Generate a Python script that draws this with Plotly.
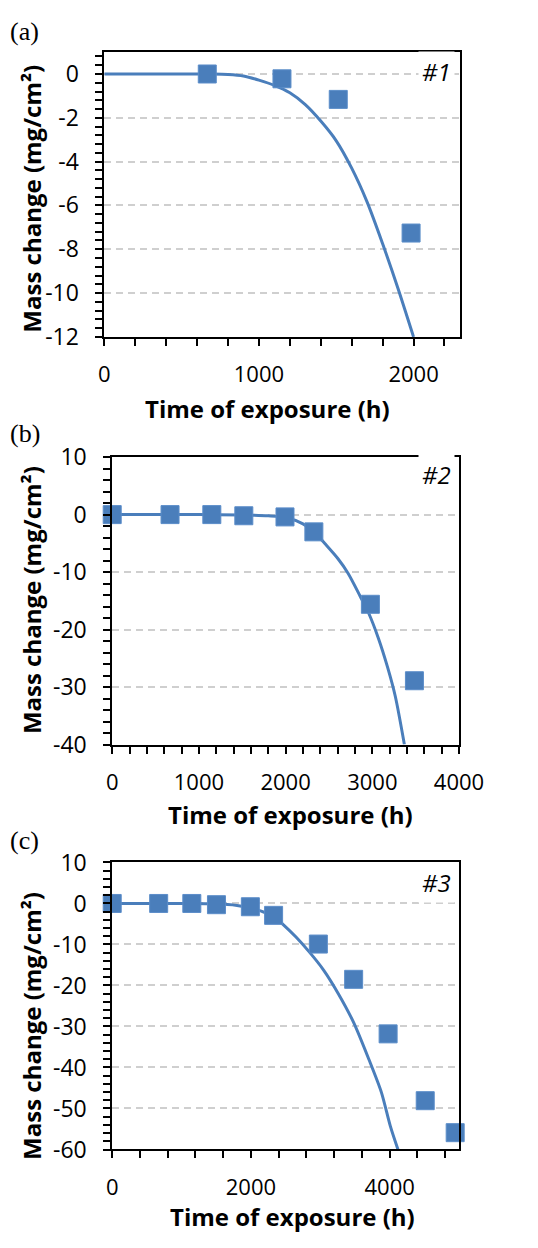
import plotly.graph_objects as go

# ---- data -------------------------------------------------------------
# Panel (a), sample #1
a_time = [666, 1149, 1513, 1984]
a_mass = [0.0, -0.22, -1.16, -7.26]
a_fit_time = [0, 500, 700, 800, 900, 1000, 1100, 1200, 1300, 1400, 1500,
              1600, 1700, 1800, 1900, 2000]
a_fit_mass = [0, 0, 0, -0.02, -0.09, -0.28, -0.52, -0.86, -1.4, -2.15, -3.05,
              -4.3, -5.85, -7.75, -9.8, -12.0]
a_xticks = [0, 1000, 2000]
a_yticks = [0, -2, -4, -6, -8, -10, -12]

# Panel (b), sample #2
b_time = [0, 667, 1149, 1518, 1993, 2326, 2978, 3486]
b_mass = [0.0, 0.0, 0.0, -0.2, -0.4, -3.0, -15.6, -28.9]
b_fit_time = [0, 1000, 1500, 1800, 2000, 2200, 2330, 2450, 2600, 2720, 2860,
              2960, 3070, 3175, 3265, 3370]
b_fit_mass = [0, 0, -0.05, -0.2, -0.5, -1.6, -3.0, -5.0, -7.6, -10.2, -14.2,
              -17.2, -21.5, -26.5, -31.6, -40.0]
b_xticks = [0, 1000, 2000, 3000, 4000]
b_yticks = [10, 0, -10, -20, -30, -40]

# Panel (c), sample #3
c_time = [0, 670, 1148, 1503, 1992, 2327, 2972, 3481, 3978, 4513, 4945]
c_mass = [0.0, 0.0, 0.0, -0.3, -0.8, -2.9, -9.9, -18.5, -31.8, -48.1, -55.9]
c_fit_time = [0, 1000, 1500, 1800, 2000, 2200, 2330, 2450, 2650, 2850, 3050,
              3260, 3480, 3700, 3880, 4010, 4120]
c_fit_mass = [0, 0, -0.1, -0.5, -1.1, -2.2, -3.2, -4.9, -8.2, -12.0, -16.3,
              -22.0, -29.0, -38.0, -46.0, -54.3, -60.0]
c_xticks = [0, 2000, 4000]
c_yticks = [10, 0, -10, -20, -30, -40, -50, -60]

panel_letters = ["(a)", "(b)", "(c)"]
sample_tags = ["#1", "#2", "#3"]
x_title = "Time of exposure (h)"
y_title = "Mass change (mg/cm²)"

# ---- page geometry (pixels) -------------------------------------------
W, H = 538, 1248


def px(x):
    return x / W


def py(y):
    return 1 - y / H


BLUE = "#4a7ebb"
TICK_FONT = dict(family="Open Sans", size=22, color="black")
XTITLE_FONT = dict(family="Open Sans", size=24, color="black", weight="bold")
YTITLE_FONT = dict(family="Open Sans", size=24, color="black", weight="bold")

panels = [
    dict(t=a_time, m=a_mass, ft=a_fit_time, fm=a_fit_mass,
         xt_vals=a_xticks, yt_vals=a_yticks,
         box=(104.3, 481.7, 36.0, 328.3), xr=[0, 2300], yr=[-12, 1],
         xmin=200, ymin=0.4,
         letter_y=15, tag_y=56, xt=(277, 402), yt=(27, 186)),
    dict(t=b_time, m=b_mass, ft=b_fit_time, fm=b_fit_mass,
         xt_vals=b_xticks, yt_vals=b_yticks,
         box=(112.7, 480.7, 451.7, 746.7), xr=[0, 4000], yr=[-40, 10],
         xmin=200, ymin=2,
         letter_y=427, tag_y=470, xt=(302, 818), yt=(27, 598)),
    dict(t=c_time, m=c_mass, ft=c_fit_time, fm=c_fit_mass,
         xt_vals=c_xticks, yt_vals=c_yticks,
         box=(112.7, 480.7, 867.7, 1162.3), xr=[0, 5000], yr=[-60, 10],
         xmin=400, ymin=2,
         letter_y=845, tag_y=888, xt=(304, 1231), yt=(27, 1035)),
]

fig = go.Figure()
layout = dict(
    width=W, height=H,
    margin=dict(l=0, r=0, t=0, b=0),
    paper_bgcolor="white", plot_bgcolor="white",
    showlegend=False,
    annotations=[],
)

for i, p in enumerate(panels):
    n = "" if i == 0 else str(i + 1)
    xa, ya = "x" + n, "y" + n
    ylab = "y" + str(i + 4)          # overlay axis that only carries labels
    left, right, top, bottom = p["box"]

    # fitted curve
    fig.add_trace(go.Scatter(
        x=p["ft"], y=p["fm"], mode="lines", xaxis=xa, yaxis=ya,
        line=dict(color=BLUE, width=3, shape="spline", smoothing=0.8),
        hoverinfo="skip"))
    # measured points
    fig.add_trace(go.Scatter(
        x=p["t"], y=p["m"], mode="markers", xaxis=xa, yaxis=ya,
        marker=dict(symbol="square", size=18, color=BLUE,
                    line=dict(color="#5b8dc9", width=1)),
        cliponaxis=False))
    # empty trace so the label axis gets drawn
    fig.add_trace(go.Scatter(x=[], y=[], xaxis=xa, yaxis=ylab,
                             hoverinfo="skip"))

    layout["xaxis" + n] = dict(
        domain=[px(left), px(right)], anchor=ya, range=p["xr"],
        showline=True, mirror=True, linecolor="black", linewidth=2,
        showgrid=False, zeroline=False,
        ticks="outside", ticklen=7, tickwidth=1.5, tickcolor="black",
        tickmode="array", tickvals=p["xt_vals"],
        ticktext=[str(v) for v in p["xt_vals"]],
        tickfont=TICK_FONT, ticklabelstandoff=10,
        minor=dict(ticks="outside", ticklen=7, tickwidth=1.5,
                   tickcolor="black", dtick=p["xmin"], tick0=0,
                   showgrid=False),
        fixedrange=True,
    )
    layout["yaxis" + n] = dict(
        domain=[py(bottom), py(top)], anchor=xa, range=p["yr"],
        showline=True, mirror=True, linecolor="black", linewidth=2,
        showgrid=True, gridcolor="#cfcfcf", gridwidth=1.5,
        griddash="7px,5px", zeroline=False,
        ticks="outside", ticklen=7, tickwidth=1.5, tickcolor="black",
        tickmode="array", tickvals=p["yt_vals"], showticklabels=False,
        minor=dict(ticks="outside", ticklen=7, tickwidth=1.5,
                   tickcolor="black", dtick=p["ymin"], tick0=0,
                   showgrid=False),
        fixedrange=True,
    )
    # tick labels, set a little away from the frame
    layout["yaxis" + str(i + 4)] = dict(
        overlaying=ya, anchor="free", position=px(left - 27),
        range=p["yr"], side="left",
        showline=False, showgrid=False, zeroline=False, ticks="",
        tickmode="array", tickvals=p["yt_vals"],
        ticktext=[str(v) for v in p["yt_vals"]],
        tickfont=dict(family="Open Sans", size=23, color="black"),
        fixedrange=True,
    )

    anns = layout["annotations"]
    anns.append(dict(text=panel_letters[i], xref="paper", yref="paper",
                     x=px(2), y=py(p["letter_y"]), xanchor="left",
                     yanchor="middle", showarrow=False,
                     font=dict(family="Liberation Serif", size=26,
                               color="black")))
    anns.append(dict(text="<i>" + sample_tags[i] + "</i>", xref="paper",
                     yref="paper", x=px(476), y=py(p["tag_y"]),
                     xanchor="right", yanchor="middle", showarrow=False,
                     bgcolor="white", borderpad=3,
                     font=dict(family="Open Sans", size=24, color="black")))
    anns.append(dict(text=x_title, xref="paper", yref="paper",
                     x=px(p["xt"][0]), y=py(p["xt"][1]), xanchor="center",
                     yanchor="middle", showarrow=False, font=XTITLE_FONT))
    anns.append(dict(text=y_title, xref="paper", yref="paper",
                     x=px(p["yt"][0]), y=py(p["yt"][1]), xanchor="center",
                     yanchor="middle", showarrow=False, textangle=-90,
                     font=YTITLE_FONT))

fig.update_layout(**layout)
fig.write_html("out.html")
